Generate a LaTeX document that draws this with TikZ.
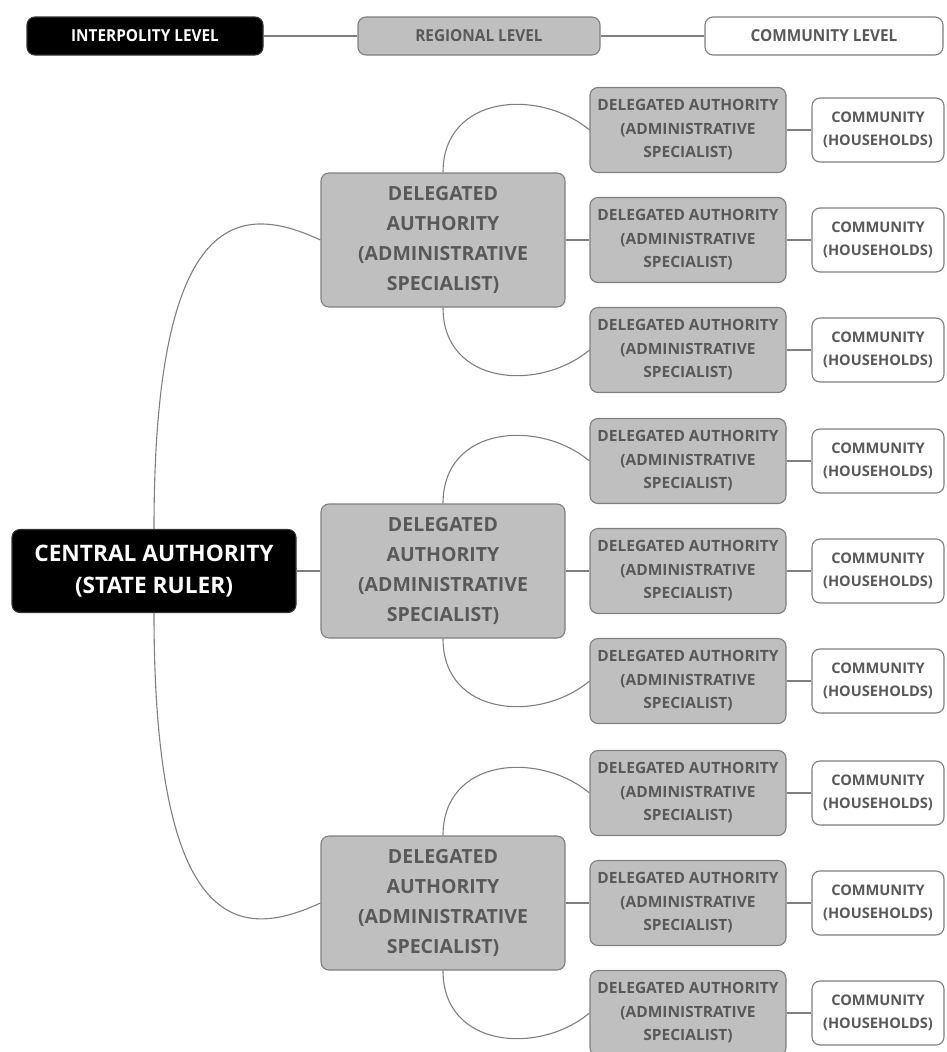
\documentclass[tikz,border=0pt]{standalone}
\usepackage{fontspec}
\setmainfont{Open Sans}
\newfontfamily\legendfont[FakeStretch=0.93]{Open Sans}
\definecolor{boxgray}{HTML}{BFBFBF}
\definecolor{txtgray}{HTML}{595959}
\definecolor{edgegray}{HTML}{7F7F7F}
\begin{document}
\begin{tikzpicture}[x=1pt,y=-1pt,
    every node/.style={align=center,rounded corners=8pt,line width=1.1pt,inner sep=0pt},
    blackbox/.style={draw=black!80,fill=black,text=white},
    graybox/.style={draw=edgegray,fill=boxgray,text=txtgray},
    whitebox/.style={draw=edgegray,fill=white,text=txtgray},
    legendtxt/.style={font=\legendfont\bfseries\fontsize{16.5}{18}\selectfont,minimum height=38pt},
    centraltxt/.style={font=\bfseries\fontsize{22.7}{32}\selectfont,minimum width=284pt,minimum height=83pt},
    midtxt/.style={font=\bfseries\fontsize{19.5}{30}\selectfont,minimum width=244pt,minimum height=134pt},
    subtxt/.style={font=\bfseries\fontsize{15.5}{23.5}\selectfont,minimum width=196pt,minimum height=85pt},
    commtxt/.style={font=\bfseries\fontsize{14.6}{23}\selectfont,minimum width=132pt,minimum height=64pt},
    link/.style={draw=edgegray,line width=1.1pt}]
  \useasboundingbox (0,0) rectangle (946,1052);
  % legend
  \node[blackbox,legendtxt,minimum width=236pt] (interpolity) at (145,36) {INTERPOLITY LEVEL};
  \node[graybox,legendtxt,minimum width=242pt] (regional) at (479,36) {REGIONAL LEVEL};
  \node[whitebox,legendtxt,minimum width=238pt] (communitylevel) at (824,36) {COMMUNITY LEVEL};
  \draw[link] (interpolity) -- (regional);
  \draw[link] (regional) -- (communitylevel);
  % state ruler
  \node[blackbox,centraltxt] (central) at (154,571) {CENTRAL AUTHORITY\\(STATE RULER)};
  \foreach \g/\y in {1/240,2/571,3/903} {
    \node[graybox,midtxt] (mid\g) at (443,\y) {DELEGATED\\AUTHORITY\\(ADMINISTRATIVE\\SPECIALIST)};
    \foreach \s/\dy in {1/-110,2/0,3/110} {
      \node[graybox,subtxt] (sub\g\s) at (688,\y+\dy) {DELEGATED AUTHORITY\\(ADMINISTRATIVE\\SPECIALIST)};
      \node[whitebox,commtxt] (comm\g\s) at (878,\y+\dy) {COMMUNITY\\(HOUSEHOLDS)};
      \draw[link] (sub\g\s) -- (comm\g\s);
    }
    \draw[link] (mid\g.north) .. controls +(0,-78) and +(-50,-42) .. (sub\g1.west);
    \draw[link] (mid\g) -- (sub\g2);
    \draw[link] (mid\g.south) .. controls +(0,78) and +(-50,42) .. (sub\g3.west);
  }
  % ruler to regions
  \draw[link] (central.north) .. controls +(0,-330) and +(-76,-35) .. (mid1.west);
  \draw[link] (central) -- (mid2);
  \draw[link] (central.south) .. controls +(0,330) and +(-76,35) .. (mid3.west);
\end{tikzpicture}
\end{document}
